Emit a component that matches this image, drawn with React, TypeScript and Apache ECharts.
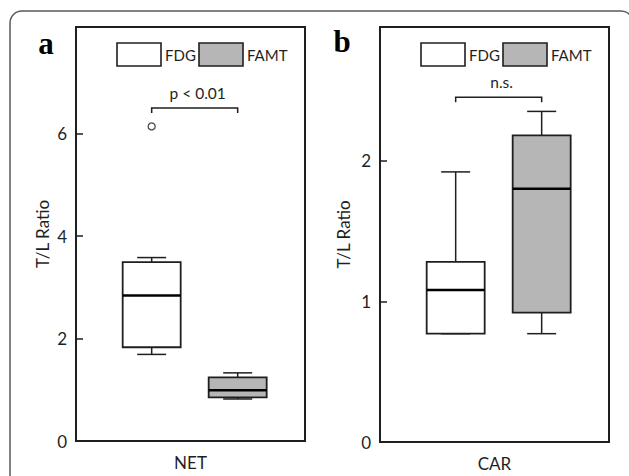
import React, { useEffect, useRef } from "react";
import * as echarts from "echarts";

// ---- data ----
const GROUPS = ["FDG", "FAMT"];
const GROUP_X = [1, 2];
const PANELS = ["NET", "CAR"];
// [min, q1, median, q3, max]
const NET_FDG = [1.69, 1.83, 2.84, 3.49, 3.58];
const NET_FAMT = [0.82, 0.85, 0.99, 1.24, 1.33];
const NET_FDG_OUTLIERS = [6.14];
const CAR_FDG = [0.77, 0.77, 1.08, 1.28, 1.92];
const CAR_FAMT = [0.77, 0.92, 1.8, 2.18, 2.35];
const NET_TICKS = [0, 2, 4, 6];
const CAR_TICKS = [0, 1, 2];
const NET_MAX = 8.08;
const CAR_MAX = 2.95;
const SIG_LABELS = ["p < 0.01", "n.s."];
const SIG_Y = [6.5, 2.45];
const PANEL_LETTERS = ["a", "b"];

const FONT = "Lato, 'Open Sans', sans-serif";
const DARK = "#1f1f1f";
const FILLS = ["#ffffff", "#b6b6b6"];
const BOX_W = 58;
const CAP_W = 29;

function renderBox(params: any, api: any) {
  const x = api.value(0);
  const lo = api.coord([x, api.value(1)]);
  const q1 = api.coord([x, api.value(2)]);
  const med = api.coord([x, api.value(3)]);
  const q3 = api.coord([x, api.value(4)]);
  const hi = api.coord([x, api.value(5)]);
  const cx = lo[0];
  const fill = api.visual("color");
  const ls = { stroke: DARK, lineWidth: 1.5 };
  return {
    type: "group",
    children: [
      { type: "line", shape: { x1: cx, y1: hi[1], x2: cx, y2: q3[1] }, style: ls },
      { type: "line", shape: { x1: cx - CAP_W / 2, y1: hi[1], x2: cx + CAP_W / 2, y2: hi[1] }, style: ls },
      { type: "line", shape: { x1: cx, y1: q1[1], x2: cx, y2: lo[1] }, style: ls },
      { type: "line", shape: { x1: cx - CAP_W / 2, y1: lo[1], x2: cx + CAP_W / 2, y2: lo[1] }, style: ls },
      {
        type: "rect",
        shape: { x: cx - BOX_W / 2, y: q3[1], width: BOX_W, height: q1[1] - q3[1] },
        style: { fill, stroke: DARK, lineWidth: 1.8 },
      },
      {
        type: "line",
        shape: { x1: cx - BOX_W / 2, y1: med[1], x2: cx + BOX_W / 2, y2: med[1] },
        style: { stroke: "#000", lineWidth: 2.6 },
      },
    ],
  };
}

function renderBracket(params: any, api: any) {
  const a = api.coord([api.value(0), api.value(2)]);
  const b = api.coord([api.value(1), api.value(2)]);
  const label = SIG_LABELS[params.seriesIndex === 5 ? 0 : 1];
  return {
    type: "group",
    children: [
      {
        type: "polyline",
        shape: { points: [[a[0], a[1] + 5], [a[0], a[1]], [b[0], b[1]], [b[0], b[1] + 5]] },
        style: { stroke: DARK, lineWidth: 1.5, fill: "none" },
      },
      {
        type: "text",
        style: {
          x: (a[0] + b[0]) / 2 + 3,
          y: a[1] - 15,
          text: label,
          fill: DARK,
          font: `15.5px ${FONT}`,
          align: "center",
          verticalAlign: "middle",
        },
      },
    ],
  };
}

function legendGraphics(x0: number) {
  const els: any[] = [];
  const offsets = [0, 82];
  GROUPS.forEach((g, i) => {
    const x = x0 + offsets[i];
    els.push({
      type: "rect",
      shape: { x, y: 43, width: 44, height: 23 },
      style: { fill: FILLS[i], stroke: DARK, lineWidth: 1.6 },
    });
    els.push({
      type: "text",
      style: { x: x + 48, y: 55, text: g, fill: DARK, font: `15px ${FONT}`, verticalAlign: "middle" },
    });
  });
  return els;
}

export default function App() {
  const ref = useRef<HTMLDivElement>(null);
  useEffect(() => {
    document.body.style.margin = "0";
    const chart = echarts.init(ref.current!, null, { renderer: "svg" });
    const grids = [
      { left: 76, top: 27, width: 229, height: 414 },
      { left: 380, top: 27, width: 229, height: 415 },
    ];
    const yMax = [NET_MAX, CAR_MAX];
    const yTicks = [NET_TICKS, CAR_TICKS];
    const yNameGap = [25, 28];
    const boxes = [
      [NET_FDG, NET_FAMT],
      [CAR_FDG, CAR_FAMT],
    ];

    const series: any[] = [];
    boxes.forEach((pair, p) => {
      pair.forEach((vals, g) => {
        series.push({
          type: "custom",
          name: GROUPS[g],
          xAxisIndex: p,
          yAxisIndex: p,
          itemStyle: { color: FILLS[g] },
          renderItem: renderBox,
          data: [[GROUP_X[g], ...vals]],
          z: 3,
        });
      });
    });
    // series index 4: outliers
    series.push({
      type: "scatter",
      name: "FDG outlier",
      xAxisIndex: 0,
      yAxisIndex: 0,
      symbol: "circle",
      symbolSize: 7,
      itemStyle: { color: "#fff", borderColor: DARK, borderWidth: 1.3 },
      data: NET_FDG_OUTLIERS.map((v) => [GROUP_X[0], v]),
      z: 4,
    });
    // series 5,6: significance brackets
    PANELS.forEach((_, p) => {
      series.push({
        type: "custom",
        name: "sig " + PANELS[p],
        xAxisIndex: p,
        yAxisIndex: p,
        renderItem: renderBracket,
        data: [[GROUP_X[0], GROUP_X[1], SIG_Y[p]]],
        z: 5,
      });
    });

    chart.setOption({
      animation: false,
      backgroundColor: "#fff",
      textStyle: { fontFamily: FONT },
      grid: grids.map((g) => ({
        ...g,
        show: true,
        outerBoundsMode: "none",
        containLabel: false,
        borderColor: DARK,
        borderWidth: 2,
        backgroundColor: "transparent",
      })),
      xAxis: PANELS.map((name, p) => ({
        type: "value",
        gridIndex: p,
        min: 0.12,
        max: 2.783,
        name,
        nameLocation: "middle",
        nameGap: 13,
        nameTextStyle: { fontSize: 17, color: DARK, fontFamily: FONT },
        axisLine: { show: false },
        axisTick: { show: false },
        axisLabel: { show: false },
        splitLine: { show: false },
      })),
      yAxis: PANELS.map((_, p) => ({
        type: "value",
        gridIndex: p,
        min: 0,
        max: yMax[p],
        name: "T/L Ratio",
        nameLocation: "middle",
        nameGap: yNameGap[p],
        nameRotate: 90,
        nameTextStyle: { fontSize: 17, color: DARK, fontFamily: FONT },
        axisLine: { show: false },
        axisTick: {
          show: true,
          inside: true,
          length: 7,
          customValues: yTicks[p],
          lineStyle: { color: DARK, width: 1.5 },
        },
        axisLabel: {
          customValues: yTicks[p],
          margin: 9,
          fontSize: 17,
          color: DARK,
          fontFamily: FONT,
        },
        splitLine: { show: false },
      })),
      series,
      graphic: [
        {
          type: "rect",
          shape: { x: 10, y: 11, width: 623, height: 520, r: 12 },
          style: { fill: "none", stroke: "#5a5a5a", lineWidth: 1.5 },
          silent: true,
        },
        {
          type: "text",
          style: {
            x: 46,
            y: 43,
            text: PANEL_LETTERS[0],
            fill: "#000",
            font: "bold 31px 'Liberation Serif', 'DejaVu Serif', serif",
            align: "center",
            verticalAlign: "middle",
          },
        },
        {
          type: "text",
          style: {
            x: 342,
            y: 41,
            text: PANEL_LETTERS[1],
            fill: "#000",
            font: "bold 31px 'Liberation Serif', 'DejaVu Serif', serif",
            align: "center",
            verticalAlign: "middle",
          },
        },
        ...legendGraphics(117),
        ...legendGraphics(421),
      ],
    });
    return () => chart.dispose();
  }, []);
  return <div ref={ref} style={{ width: 629, height: 476 }} />;
}
